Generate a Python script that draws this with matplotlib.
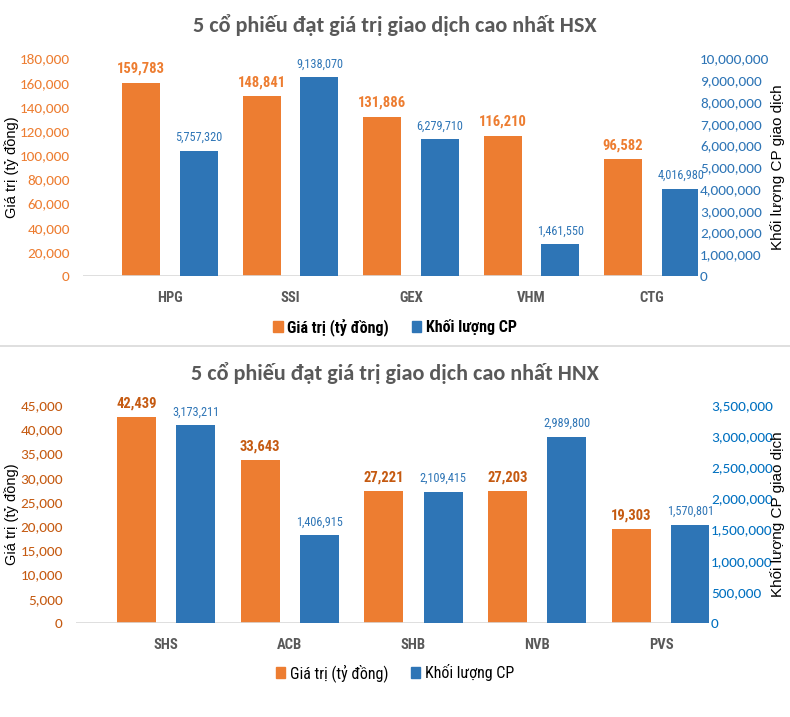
import matplotlib
matplotlib.use("Agg")
import matplotlib.pyplot as plt
import numpy as np
from matplotlib.ticker import FuncFormatter, MultipleLocator
from matplotlib.patches import Patch
from matplotlib.lines import Line2D

# ---------------- data ----------------
hsx_title = "5 cổ phiếu đạt giá trị giao dịch cao nhất HSX"
hsx_tickers = ["HPG", "SSI", "GEX", "VHM", "CTG"]
hsx_value = [159783, 148841, 131886, 116210, 96582]
hsx_volume = [5757320, 9138070, 6279710, 1461550, 4016980]

hnx_title = "5 cổ phiếu đạt giá trị giao dịch cao nhất HNX"
hnx_tickers = ["SHS", "ACB", "SHB", "NVB", "PVS"]
hnx_value = [42439, 33643, 27221, 27203, 19303]
hnx_volume = [3173211, 1406915, 2109415, 2989800, 1570801]

series_names = ["Giá trị (tỷ đồng)", "Khối lượng CP"]
left_label = "Giá trị (tỷ đồng)"
right_label = "Khối lượng CP giao dịch"

# ---------------- style ----------------
ORANGE = "#ED7D31"
BLUE = "#2E75B6"
CAL = ["Carlito", "DejaVu Sans"]
NARROW = ["Roboto Condensed", "DejaVu Sans"]
ARIAL = ["Liberation Sans", "DejaVu Sans"]
plt.rcParams["font.family"] = CAL
W, H = 790, 717

fig = plt.figure(figsize=(W / 100, H / 100), dpi=100)

fmt = FuncFormatter(lambda v, p: f"{int(round(v)):,}")


def panel(rect, title, title_y, tickers, vals, vols, vmax, vstep, rmax, rstep,
          xlim, left_tick_color, val_lbl_color, right_tick_color, legend_y,
          legend_bold):
    l, t, r, b = rect
    ax = fig.add_axes([l / W, 1 - b / H, (r - l) / W, (b - t) / H])
    ax2 = ax.twinx()
    x = np.arange(len(tickers))
    bw = 0.315
    off = 0.24
    b1 = ax.bar(x - off, vals, bw, color=ORANGE, zorder=3)
    b2 = ax2.bar(x + off, vols, bw, color=BLUE, zorder=3)
    ax.set_ylim(0, vmax)
    ax2.set_ylim(0, rmax)
    ax.set_xlim(*xlim)
    ax.yaxis.set_major_locator(MultipleLocator(vstep))
    ax2.yaxis.set_major_locator(MultipleLocator(rstep))
    ax.yaxis.set_major_formatter(fmt)
    ax2.yaxis.set_major_formatter(fmt)
    for a in (ax, ax2):
        for s in a.spines.values():
            s.set_visible(False)
        a.tick_params(length=0)
    ax.axhline(0, xmin=0, xmax=0.978, color="#D9D9D9", lw=1.2, zorder=4)
    ax.set_xticks(x)
    ax.set_xticklabels(tickers, family=NARROW, fontweight="bold",
                       fontsize=10.5, color="#595959")
    ax.tick_params(axis="x", pad=11)
    ax.tick_params(axis="y", pad=9.5, labelsize=11, labelcolor=left_tick_color)
    ax2.tick_params(axis="y", pad=1.5, labelsize=11,
                    labelcolor=right_tick_color)
    for rect_, v in zip(b1, vals):
        ax.annotate(f"{v:,}", (rect_.get_x() + rect_.get_width() / 2, v),
                    xytext=(0, 5), textcoords="offset points", ha="center",
                    va="bottom", family=NARROW, fontweight="bold",
                    fontsize=10.5, color=val_lbl_color)
    for rect_, v in zip(b2, vols):
        ax2.annotate(f"{v:,}", (rect_.get_x() + rect_.get_width() / 2, v),
                     xytext=(0, 5), textcoords="offset points", ha="center",
                     va="bottom", family=NARROW, fontsize=8.8, color=BLUE)
    fig.text(12 / W, 1 - (t + b) / 2 / H, left_label, family=ARIAL,
             fontsize=10.5, rotation=90, ha="center", va="center",
             color="black")
    fig.text(778 / W, 1 - (t + b) / 2 / H, right_label, family=ARIAL,
             fontsize=11, rotation=90, ha="center", va="center",
             color="black")
    fig.text(395 / W, 1 - title_y / H, title, ha="center", va="center",
             fontweight="bold", fontsize=16, color="#595959")
    handles = [Patch(color=ORANGE), Patch(color=BLUE)]
    fig.legend(handles, series_names, loc="center",
               bbox_to_anchor=(395 / W, 1 - legend_y / H), ncol=2,
               frameon=False, handlelength=0.6, handleheight=0.6,
               handletextpad=0.3, columnspacing=1.4,
               prop={"family": NARROW, "size": 11.5,
                     "weight": "bold" if legend_bold else "normal"})
    return ax, ax2


panel((83, 58.5, 698, 276), hsx_title, 25, hsx_tickers, hsx_value, hsx_volume,
      180000, 20000, 10000000, 1000000, (-0.722, 4.382), ORANGE, ORANGE,
      BLUE, 327, True)

panel((76, 405, 709, 623), hnx_title, 373, hnx_tickers, hnx_value, hnx_volume,
      45000, 5000, 3500000, 500000, (-0.727, 4.388), "#C55A11", "#C55A11",
      "#0070C0", 673, False)

fig.add_artist(Line2D([0, 1], [1 - 346 / H, 1 - 346 / H], color="#D9D9D9",
                      lw=1.2, transform=fig.transFigure))

fig.savefig("out.png", dpi=100, facecolor="white")
